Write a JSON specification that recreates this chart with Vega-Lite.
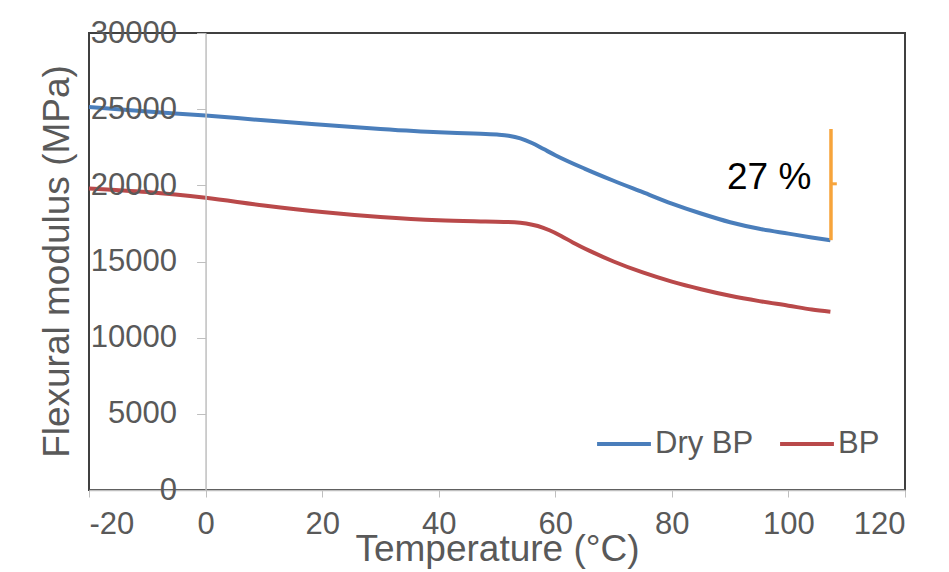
{
  "$schema": "https://vega.github.io/schema/vega-lite/v6.json",
  "width": 816,
  "height": 457,
  "autosize": {"type": "none"},
  "padding": {"left": 89, "top": 33, "right": 44, "bottom": 82},
  "background": "white",
  "config": {
    "font": "Liberation Sans",
    "view": {"stroke": "#404040", "strokeWidth": 2}
  },
  "datasets": {
    "curves": [
      {"series": "Dry BP", "t": -20, "E": 25150},
      {"series": "Dry BP", "t": -10, "E": 24850},
      {"series": "Dry BP", "t": 0, "E": 24580},
      {"series": "Dry BP", "t": 10, "E": 24270},
      {"series": "Dry BP", "t": 20, "E": 23980},
      {"series": "Dry BP", "t": 30, "E": 23700},
      {"series": "Dry BP", "t": 40, "E": 23480},
      {"series": "Dry BP", "t": 46, "E": 23400},
      {"series": "Dry BP", "t": 50, "E": 23330},
      {"series": "Dry BP", "t": 52, "E": 23250},
      {"series": "Dry BP", "t": 54, "E": 23080},
      {"series": "Dry BP", "t": 56, "E": 22780},
      {"series": "Dry BP", "t": 58, "E": 22380},
      {"series": "Dry BP", "t": 60, "E": 21980},
      {"series": "Dry BP", "t": 65, "E": 21100},
      {"series": "Dry BP", "t": 70, "E": 20300},
      {"series": "Dry BP", "t": 75, "E": 19550},
      {"series": "Dry BP", "t": 80, "E": 18800},
      {"series": "Dry BP", "t": 85, "E": 18150},
      {"series": "Dry BP", "t": 90, "E": 17580},
      {"series": "Dry BP", "t": 95, "E": 17150},
      {"series": "Dry BP", "t": 100, "E": 16830},
      {"series": "Dry BP", "t": 104, "E": 16580},
      {"series": "Dry BP", "t": 107.2, "E": 16400},
      {"series": "BP", "t": -20, "E": 19800},
      {"series": "BP", "t": -10, "E": 19560},
      {"series": "BP", "t": 0, "E": 19180},
      {"series": "BP", "t": 10, "E": 18680},
      {"series": "BP", "t": 20, "E": 18250},
      {"series": "BP", "t": 30, "E": 17920},
      {"series": "BP", "t": 40, "E": 17700},
      {"series": "BP", "t": 48, "E": 17620},
      {"series": "BP", "t": 53, "E": 17580},
      {"series": "BP", "t": 55, "E": 17500},
      {"series": "BP", "t": 57, "E": 17330},
      {"series": "BP", "t": 59, "E": 17050},
      {"series": "BP", "t": 61, "E": 16680},
      {"series": "BP", "t": 63, "E": 16250},
      {"series": "BP", "t": 66, "E": 15680},
      {"series": "BP", "t": 70, "E": 15000},
      {"series": "BP", "t": 75, "E": 14280},
      {"series": "BP", "t": 80, "E": 13680},
      {"series": "BP", "t": 85, "E": 13180},
      {"series": "BP", "t": 90, "E": 12750},
      {"series": "BP", "t": 95, "E": 12400},
      {"series": "BP", "t": 100, "E": 12100},
      {"series": "BP", "t": 104, "E": 11850},
      {"series": "BP", "t": 107.2, "E": 11700}
    ],
    "bracket": [
      {"t": 107.3, "lo": 16400, "hi": 23700}
    ],
    "bracketTick": [
      {"t": 107.3, "t2": 108.3, "E": 20100}
    ],
    "note": [
      {"t": 96.7, "E": 20500, "label": "27 %"}
    ]
  },
  "layer": [
    {
      "data": {"name": "curves"},
      "mark": {"type": "line", "strokeWidth": 4, "interpolate": "monotone"},
      "encoding": {
        "x": {
          "field": "t", "type": "quantitative",
          "scale": {"domain": [-20, 120], "nice": false, "zero": false},
          "axis": {
            "values": [-20, 0, 20, 40, 60, 80, 100, 120],
            "labelExpr": "replace(datum.label, '\u2212', '-')",
            "title": "Temperature (°C)",
            "titleFontSize": 37, "titleColor": "#595959", "titleFontWeight": "normal",
            "titleBaseline": "alphabetic", "titleY": 70,
            "labelFontSize": 31, "labelColor": "#595959", "labelPadding": 12,
            "domainColor": "#bfbfbf", "domainWidth": 1.5,
            "tickColor": "#bfbfbf", "tickSize": 7, "grid": false, "zindex": 1
          }
        },
        "y": {
          "field": "E", "type": "quantitative",
          "scale": {"domain": [0, 30000], "nice": false},
          "axis": {
            "values": [0, 5000, 10000, 15000, 20000, 25000, 30000],
            "format": "d",
            "offset": -116.57,
            "title": "Flexural modulus (MPa)",
            "titleFontSize": 37, "titleColor": "#595959", "titleFontWeight": "normal",
            "titleBaseline": "alphabetic", "titleX": -137, "titleY": 228,
            "labelFontSize": 31, "labelColor": "#595959", "labelPadding": 20,
            "domainColor": "#bfbfbf", "domainWidth": 1.5,
            "tickColor": "#bfbfbf", "tickSize": 9, "grid": false, "zindex": 1
          }
        },
        "color": {
          "field": "series", "type": "nominal",
          "scale": {"domain": ["Dry BP", "BP"], "range": ["#4a7ebb", "#b9494a"]},
          "legend": {
            "title": null, "orient": "none", "legendX": 506, "legendY": 382,
            "direction": "horizontal", "columns": 2,
            "symbolType": "stroke", "symbolSize": 2900, "symbolStrokeWidth": 4,
            "labelFontSize": 31, "labelColor": "#595959", "labelOffset": 2,
            "columnPadding": 18
          }
        }
      }
    },
    {
      "data": {"name": "bracket"},
      "mark": {"type": "rule", "color": "#f7a43b", "strokeWidth": 3.5},
      "encoding": {
        "x": {"field": "t", "type": "quantitative"},
        "y": {"field": "lo", "type": "quantitative"},
        "y2": {"field": "hi"}
      }
    },
    {
      "data": {"name": "bracketTick"},
      "mark": {"type": "rule", "color": "#f7a43b", "strokeWidth": 3},
      "encoding": {
        "x": {"field": "t", "type": "quantitative"},
        "x2": {"field": "t2"},
        "y": {"field": "E", "type": "quantitative"}
      }
    },
    {
      "data": {"name": "note"},
      "mark": {"type": "text", "fontSize": 37, "color": "black", "align": "center", "baseline": "middle"},
      "encoding": {
        "x": {"field": "t", "type": "quantitative"},
        "y": {"field": "E", "type": "quantitative"},
        "text": {"field": "label"}
      }
    }
  ]
}
